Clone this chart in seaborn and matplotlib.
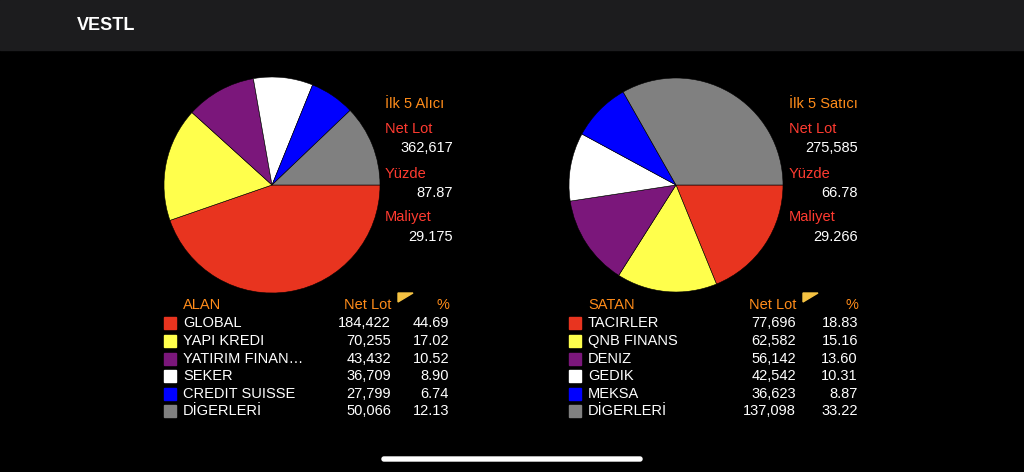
import matplotlib
matplotlib.use("Agg")
import matplotlib.pyplot as plt
import seaborn as sns
from matplotlib.patches import FancyBboxPatch, Rectangle, Polygon

sns.set_theme(style="dark")
plt.rcParams['font.family'] = ['Liberation Sans', 'DejaVu Sans']

buy_names = ["GLOBAL", "YAPI KREDI", "YATIRIM FINAN…", "SEKER", "CREDIT SUISSE", "DİGERLERİ"]
buy_lots = [184422, 70255, 43432, 36709, 27799, 50066]
buy_pct = ["44.69", "17.02", "10.52", "8.90", "6.74", "12.13"]
sell_names = ["TACIRLER", "QNB FINANS", "DENIZ", "GEDIK", "MEKSA", "DİGERLERİ"]
sell_lots = [77696, 62582, 56142, 42542, 36623, 137098]
sell_pct = ["18.83", "15.16", "13.60", "10.31", "8.87", "33.22"]
colors = ["#e8341f", "#ffff4c", "#7b177b", "#ffffff", "#0000ff", "#808080"]

W, H = 1024, 472
fig = plt.figure(figsize=(W/100, H/100), dpi=100, facecolor="black")
ov = fig.add_axes([0, 0, 1, 1], facecolor="black")
ov.set_xlim(0, W); ov.set_ylim(H, 0); ov.axis("off")
ov.add_patch(Rectangle((0, 0), W, 50, color="#1c1c1e"))
ov.text(77, 25, "VESTL", color="white", fontsize=13, fontweight="bold", va="center")
ov.add_patch(FancyBboxPatch((382, 457), 260, 4, boxstyle="round,pad=0,rounding_size=2", color="white"))

def pie(cx, cy, r, vals):
    ax = fig.add_axes([(cx-r)/W, (H-cy-r)/H, 2*r/W, 2*r/H])
    ax.pie(vals, colors=colors, startangle=0, counterclock=False, radius=1,
           wedgeprops=dict(linewidth=0.4, edgecolor="black"))
    ax.set_xlim(-1, 1); ax.set_ylim(-1, 1); ax.set_aspect("auto"); ax.axis("off")

pie(272, 185, 108, buy_lots)
pie(676, 185, 107, sell_lots)

def side(x, xr, title, lot, pct, cost):
    fs = 10.5
    ov.text(x, 104, title, color="#ff8c1a", fontsize=fs, va="center")
    ov.text(x, 129, "Net Lot", color="#ff3b30", fontsize=fs, va="center")
    ov.text(xr, 148, lot, color="white", fontsize=fs, va="center", ha="right")
    ov.text(x, 174, "Yüzde", color="#ff3b30", fontsize=fs, va="center")
    ov.text(xr, 193, pct, color="white", fontsize=fs, va="center", ha="right")
    ov.text(x, 217, "Maliyet", color="#ff3b30", fontsize=fs, va="center")
    ov.text(xr, 237, cost, color="white", fontsize=fs, va="center", ha="right")

side(385, 453, "İlk 5 Alıcı", "362,617", "87.87", "29.175")
side(789, 858, "İlk 5 Satıcı", "275,585", "66.78", "29.266")

def table(xs, head, names, lots, pcts, xl, xp):
    fs = 10.5
    ov.text(xs+13, 305, head, color="#ff8c1a", fontsize=fs, va="center")
    ov.text(xl, 305, "Net Lot", color="#ff8c1a", fontsize=fs, va="center", ha="right")
    ov.add_patch(Polygon([(xl+7, 293), (xl+22, 293), (xl+7, 302)], color="#f5c242"))
    ov.text(xp, 305, "%", color="#ff8c1a", fontsize=fs, va="center", ha="right")
    ys = [323, 341, 359, 376, 394, 411]
    for y, n, l, p, c in zip(ys, names, lots, pcts, colors):
        ov.add_patch(Rectangle((xs-6, y-6), 12, 12, color=c))
        ov.text(xs+13, y, n, color="white", fontsize=fs, va="center")
        ov.text(xl, y, f"{l:,}", color="white", fontsize=fs, va="center", ha="right")
        ov.text(xp, y, p, color="white", fontsize=fs, va="center", ha="right")

table(170, "ALAN", buy_names, buy_lots, buy_pct, 391, 449)
table(575, "SATAN", sell_names, sell_lots, sell_pct, 796, 858)

fig.savefig("out.png", dpi=100, facecolor="black")
